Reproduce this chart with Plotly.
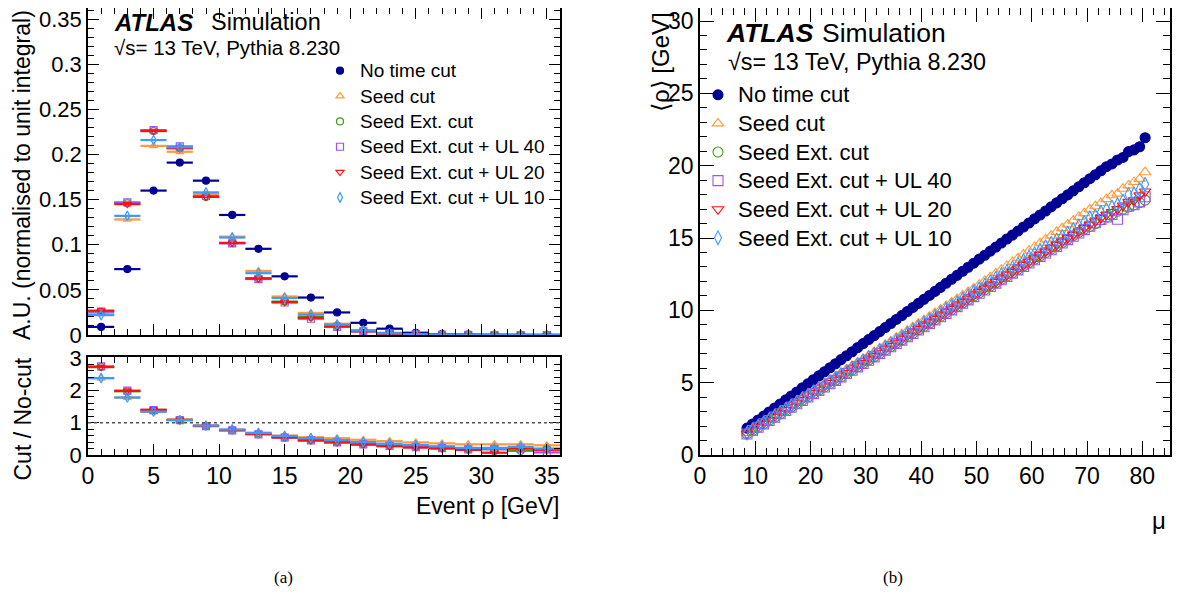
import plotly.graph_objects as go

# the page body adds an 8 px margin; the figure is sized to fit the window exactly
OFF = 8
W, H = 1183 - OFF, 596 - OFF

def px(x):
    return min(1.0, max(0.0, (x - OFF) / W))

def py(y):
    return min(1.0, max(0.0, 1 - (y - OFF) / H))

# ---------------- data: panel (a) ----------------
rho_bins = [1, 3, 5, 7, 9, 11, 13, 15, 17, 19, 21, 23, 25, 27, 29, 31, 33, 35]
bin_half = 1.0

au_nocut = [0.009, 0.073, 0.160, 0.191, 0.171, 0.133, 0.0955, 0.065, 0.0415, 0.025, 0.0135,
            0.007, 0.0025, 0.001, 0.0005, 0.0003, 0.0002, 0.0001]
au_seed = [0.0235, 0.128, 0.2095, 0.203, 0.156, 0.109, 0.071, 0.0427, 0.0245, 0.0125, 0.0055,
           0.0025, 0.001, 0.0004, 0.0002, 0.0001, 0.0001, 0.0]
au_ext = [0.026, 0.146, 0.226, 0.207, 0.153, 0.102, 0.063, 0.037, 0.020, 0.010, 0.0045,
          0.002, 0.0007, 0.0003, 0.0001, 0.0001, 0.0, 0.0]
au_ul40 = [0.026, 0.147, 0.227, 0.209, 0.154, 0.1015, 0.062, 0.036, 0.018, 0.009, 0.004,
           0.0015, 0.0006, 0.0002, 0.0001, 0.0, 0.0, 0.0]
au_ul20 = [0.027, 0.145, 0.226, 0.207, 0.153, 0.102, 0.0625, 0.0365, 0.019, 0.0095, 0.004,
           0.0015, 0.0006, 0.0002, 0.0001, 0.0, 0.0, 0.0]
au_ul10 = [0.022, 0.132, 0.216, 0.208, 0.158, 0.108, 0.0685, 0.041, 0.0225, 0.0115, 0.005,
           0.002, 0.0008, 0.0003, 0.0001, 0.0001, 0.0, 0.0]

ratio_seed = [2.37, 1.77, 1.33, 1.08, 0.91, 0.78, 0.69, 0.60, 0.55, 0.52, 0.47, 0.43, 0.39,
              0.36, 0.33, 0.33, 0.33, 0.30]
ratio_ext = [2.72, 1.97, 1.39, 1.09, 0.90, 0.77, 0.65, 0.55, 0.46, 0.40, 0.34, 0.29, 0.25,
             0.22, 0.18, 0.18, 0.13, 0.18]
ratio_ul40 = [2.74, 1.99, 1.39, 1.08, 0.89, 0.76, 0.64, 0.54, 0.45, 0.39, 0.33, 0.28, 0.24,
              0.21, 0.17, 0.18, 0.20, 0.08]
ratio_ul20 = [2.72, 1.98, 1.40, 1.09, 0.90, 0.77, 0.65, 0.54, 0.45, 0.39, 0.32, 0.27, 0.23,
              0.20, 0.16, 0.07, 0.20, 0.16]
ratio_ul10 = [2.38, 1.78, 1.34, 1.08, 0.91, 0.79, 0.68, 0.59, 0.52, 0.46, 0.40, 0.35, 0.31,
              0.27, 0.22, 0.22, 0.25, 0.20]
ratio_err = [0.03, 0.02, 0.02, 0.02, 0.02, 0.02, 0.03, 0.03, 0.03, 0.04, 0.04, 0.05, 0.05,
             0.06, 0.06, 0.07, 0.07, 0.08]

# ---------------- data: panel (b) ----------------
mu = [8.5, 9.5, 10.5, 11.5, 12.5, 13.5, 14.5, 15.5, 16.5, 17.5, 18.5, 19.5, 20.5, 21.5, 22.5,
      23.5, 24.5, 25.5, 26.5, 27.5, 28.5, 29.5, 30.5, 31.5, 32.5, 33.5, 34.5, 35.5, 36.5, 37.5,
      38.5, 39.5, 40.5, 41.5, 42.5, 43.5, 44.5, 45.5, 46.5, 47.5, 48.5, 49.5, 50.5, 51.5, 52.5,
      53.5, 54.5, 55.5, 56.5, 57.5, 58.5, 59.5, 60.5, 61.5, 62.5, 63.5, 64.5, 65.5, 66.5, 67.5,
      68.5, 69.5, 70.5, 71.5, 72.5, 73.5, 74.5, 75.5, 76.5, 77.5, 78.5, 79.5, 80.5]

rho_nocut = [1.86, 2.14, 2.42, 2.69, 2.97, 3.25, 3.53, 3.81, 4.08, 4.36, 4.64, 4.92, 5.20, 5.47,
             5.75, 6.03, 6.31, 6.59, 6.86, 7.14, 7.42, 7.70, 7.98, 8.25, 8.53, 8.81, 9.09, 9.37,
             9.64, 9.92, 10.20, 10.48, 10.76, 11.03, 11.31, 11.59, 11.87, 12.15, 12.42, 12.70,
             12.98, 13.26, 13.54, 13.81, 14.09, 14.37, 14.65, 14.93, 15.20, 15.48, 15.76, 16.04,
             16.32, 16.59, 16.87, 17.15, 17.43, 17.71, 17.98, 18.26, 18.54, 18.82, 19.10, 19.37,
             19.65, 19.93, 20.12, 20.39, 20.57, 20.97, 21.09, 21.31, 21.93]
rho_seed = [1.52, 1.76, 2.01, 2.25, 2.50, 2.74, 2.98, 3.23, 3.47, 3.72, 3.96, 4.20, 4.45, 4.69,
            4.94, 5.18, 5.42, 5.67, 5.91, 6.16, 6.40, 6.64, 6.89, 7.13, 7.38, 7.62, 7.86, 8.11,
            8.35, 8.60, 8.84, 9.08, 9.33, 9.57, 9.82, 10.06, 10.30, 10.55, 10.79, 11.04, 11.28,
            11.52, 11.78, 12.04, 12.30, 12.56, 12.82, 13.08, 13.34, 13.60, 13.86, 14.12, 14.38,
            14.64, 14.90, 15.16, 15.42, 15.68, 15.94, 16.20, 16.46, 16.72, 16.98, 17.20, 17.42,
            17.69, 17.96, 18.07, 18.41, 18.64, 18.87, 19.09, 19.55]
rho_ext = [1.46, 1.69, 1.92, 2.15, 2.39, 2.62, 2.85, 3.08, 3.32, 3.55, 3.78, 4.01, 4.24, 4.48,
           4.71, 4.94, 5.17, 5.41, 5.64, 5.87, 6.10, 6.33, 6.57, 6.80, 7.03, 7.26, 7.49, 7.73,
           7.96, 8.19, 8.42, 8.66, 8.89, 9.12, 9.35, 9.58, 9.82, 10.05, 10.28, 10.51, 10.75,
           10.98, 11.21, 11.44, 11.67, 11.91, 12.14, 12.37, 12.60, 12.83, 13.07, 13.30, 13.53,
           13.76, 14.00, 14.23, 14.46, 14.69, 14.92, 15.16, 15.39, 15.62, 15.80, 16.00, 16.25,
           16.45, 16.65, 16.85, 17.00, 17.15, 17.30, 17.45, 17.62]
rho_ul40 = [1.45, 1.69, 1.92, 2.15, 2.38, 2.62, 2.85, 3.08, 3.31, 3.54, 3.77, 4.01, 4.24, 4.47,
            4.70, 4.93, 5.16, 5.40, 5.63, 5.86, 6.09, 6.32, 6.55, 6.78, 7.02, 7.25, 7.48, 7.71,
            7.94, 8.17, 8.40, 8.64, 8.87, 9.10, 9.33, 9.56, 9.79, 10.03, 10.26, 10.49, 10.72,
            10.95, 11.18, 11.41, 11.65, 11.88, 12.11, 12.34, 12.57, 12.80, 13.04, 13.27, 13.50,
            13.73, 13.96, 14.19, 14.42, 14.66, 14.89, 15.12, 15.35, 15.58, 15.81, 16.05, 16.28,
            16.45, 16.62, 16.30, 16.95, 17.20, 17.30, 17.50, 17.85]
rho_ul20 = [1.48, 1.71, 1.95, 2.18, 2.41, 2.65, 2.88, 3.11, 3.34, 3.58, 3.81, 4.04, 4.28, 4.51,
            4.74, 4.98, 5.21, 5.44, 5.67, 5.91, 6.14, 6.37, 6.61, 6.84, 7.07, 7.31, 7.54, 7.77,
            8.00, 8.24, 8.47, 8.70, 8.94, 9.17, 9.40, 9.64, 9.87, 10.10, 10.33, 10.57, 10.80,
            11.03, 11.27, 11.50, 11.73, 11.96, 12.20, 12.43, 12.66, 12.89, 13.13, 13.36, 13.59,
            13.82, 14.06, 14.29, 14.52, 14.75, 14.99, 15.22, 15.45, 15.68, 15.92, 16.15, 16.38,
            16.61, 16.80, 17.00, 17.25, 17.50, 17.60, 17.95, 18.22]
rho_ul10 = [1.50, 1.74, 1.98, 2.21, 2.45, 2.69, 2.93, 3.17, 3.40, 3.64, 3.88, 4.12, 4.36, 4.59,
            4.83, 5.07, 5.31, 5.55, 5.78, 6.02, 6.26, 6.50, 6.74, 6.97, 7.21, 7.45, 7.69, 7.93,
            8.16, 8.40, 8.64, 8.88, 9.12, 9.35, 9.59, 9.83, 10.07, 10.31, 10.54, 10.78, 11.02,
            11.26, 11.50, 11.74, 11.98, 12.22, 12.46, 12.70, 12.95, 13.19, 13.43, 13.67, 13.91,
            14.15, 14.39, 14.63, 14.87, 15.11, 15.35, 15.59, 15.83, 16.08, 16.40, 16.50, 16.80,
            16.95, 17.15, 17.30, 17.55, 18.00, 18.05, 18.35, 18.72]

names = ["No time cut", "Seed cut", "Seed Ext. cut", "Seed Ext. cut + UL 40",
         "Seed Ext. cut + UL 20", "Seed Ext. cut + UL 10"]
colors = ["#000094", "#ff9a3c", "#3aa010", "#a050ff", "#ff1010", "#3a9bff"]
symbols = ["circle", "triangle-up-open", "circle-open", "square-open",
           "triangle-down-open", "diamond-tall-open"]

FONT = "Liberation Sans, Arial, sans-serif"


def sized(name, size):
    return '<span style="font-size:%dpx">%s</span>' % (size, name)


fig = go.Figure()

# ---------- panel (a) top ----------
au_series = [au_nocut, au_seed, au_ext, au_ul40, au_ul20, au_ul10]
for i, ys in enumerate(au_series):
    fig.add_trace(go.Scatter(
        x=rho_bins, y=ys, mode="markers", name=sized(names[i], 19),
        marker=dict(symbol=symbols[i], size=7, color=colors[i],
                    line=dict(width=1.2, color=colors[i])),
        error_x=dict(type="constant", value=bin_half, width=0, thickness=2.2, color=colors[i]),
        xaxis="x", yaxis="y", legend="legend", showlegend=True,
    ))

# ---------- panel (a) ratio ----------
ratio_series = [ratio_seed, ratio_ext, ratio_ul40, ratio_ul20, ratio_ul10]
for i, ys in enumerate(ratio_series):
    c = colors[i + 1]
    fig.add_trace(go.Scatter(
        x=rho_bins, y=ys, mode="markers",
        marker=dict(symbol=symbols[i + 1], size=7, color=c, line=dict(width=1.2, color=c)),
        error_x=dict(type="constant", value=bin_half, width=0, thickness=2.2, color=c),
        error_y=dict(type="data", array=ratio_err, width=0, thickness=1.2, color=c),
        xaxis="x2", yaxis="y2", showlegend=False,
    ))

# ---------- panel (b) ----------
rho_series = [rho_nocut, rho_seed, rho_ext, rho_ul40, rho_ul20, rho_ul10]
for i, ys in enumerate(rho_series):
    fig.add_trace(go.Scatter(
        x=mu, y=ys, mode="markers", name=sized(names[i], 22),
        marker=dict(symbol=symbols[i], size=10, color=colors[i],
                    line=dict(width=1.1, color=colors[i])),
        xaxis="x3", yaxis="y3", legend="legend2", showlegend=True,
    ))

fig.add_shape(type="line", xref="x2", yref="y2", x0=0, x1=36, y0=1, y1=1,
              line=dict(color="#555555", width=1.5, dash="dot"))

axis_common = dict(showline=True, linecolor="black", linewidth=1.5, mirror="allticks",
                   ticks="inside", showgrid=False, zeroline=False, tickcolor="black",
                   automargin=False, ticklabeloverflow="allow")
tf_big = dict(family=FONT, size=23, color="black")
tf_left = dict(family=FONT, size=22, color="black")

fig.update_layout(
    width=W, height=H, margin=dict(l=0, r=0, t=0, b=0, pad=0, autoexpand=False),
    paper_bgcolor="white", plot_bgcolor="white",
    font=dict(family=FONT, color="black"),
    xaxis=dict(domain=[px(88), px(560)], range=[0, 36], anchor="y", dtick=5, ticklen=11,
               showticklabels=False, tickfont=tf_big,
               minor=dict(dtick=1, ticklen=6, ticks="inside", tickcolor="black"), **axis_common),
    yaxis=dict(domain=[py(335), py(8)], range=[0, 0.3623], anchor="x", dtick=0.05, ticklen=11,
               tickfont=tf_left,
               minor=dict(dtick=0.01, ticklen=6, ticks="inside", tickcolor="black"), **axis_common),
    xaxis2=dict(domain=[px(88), px(560)], range=[0, 36], anchor="y2", dtick=5, ticklen=11,
                tickfont=tf_big,
                minor=dict(dtick=1, ticklen=6, ticks="inside", tickcolor="black"), **axis_common),
    yaxis2=dict(domain=[py(455), py(357)], range=[0, 3.03], anchor="x2", dtick=1, ticklen=11,
                tickfont=tf_left,
                minor=dict(dtick=0.2, ticklen=6, ticks="inside", tickcolor="black"), **axis_common),
    xaxis3=dict(domain=[px(700), px(1170)], range=[0, 85], anchor="y3", dtick=10, ticklen=14,
                tickfont=tf_big,
                minor=dict(dtick=2, ticklen=7, ticks="inside", tickcolor="black"), **axis_common),
    yaxis3=dict(domain=[py(455), py(8)], range=[0, 30.9], anchor="x3", dtick=5, ticklen=14,
                tickfont=tf_big,
                minor=dict(dtick=1, ticklen=7, ticks="inside", tickcolor="black"), **axis_common),
    legend=dict(x=px(320), y=py(53), xanchor="left", yanchor="top",
                font=dict(family=FONT, size=17.2, color="black"), bgcolor="rgba(0,0,0,0)",
                borderwidth=0, tracegroupgap=0),
    legend2=dict(x=px(698), y=py(75.5), xanchor="left", yanchor="top",
                 font=dict(family=FONT, size=19.7, color="black"), bgcolor="rgba(0,0,0,0)",
                 borderwidth=0, tracegroupgap=0),
)

ann = [
    dict(text="<b><i>ATLAS</i></b>", x=px(112), y=py(22), size=24, xanchor="left"),
    dict(text="Simulation", x=px(209), y=py(22), size=23.5, xanchor="left"),
    dict(text="√s= 13 TeV, Pythia 8.230", x=px(112), y=py(48), size=20.5, xanchor="left"),
    dict(text="<b><i>ATLAS</i></b>", x=px(724), y=py(33), size=26.5, xanchor="left"),
    dict(text="Simulation", x=px(820), y=py(33), size=26.5, xanchor="left"),
    dict(text="√s= 13 TeV, Pythia 8.230", x=px(726), y=py(62), size=23.4, xanchor="left"),
    dict(text="Event ρ [GeV]", x=px(561), y=py(506), size=23, xanchor="right"),
    dict(text="μ", x=px(1168), y=py(520), size=24, xanchor="right"),
]
for a in ann:
    fig.add_annotation(text=a["text"], x=a["x"], y=a["y"], xref="paper", yref="paper",
                       xanchor=a["xanchor"], yanchor="middle", showarrow=False,
                       font=dict(family=FONT, size=a["size"], color="black"))

fig.add_annotation(text="A.U. (normalised to unit integral)", x=px(22), y=py(8),
                   xref="paper", yref="paper", xanchor="center", yanchor="top",
                   textangle=-90, showarrow=False,
                   font=dict(family=FONT, size=23, color="black"))
fig.add_annotation(text="Cut / No-cut", x=px(22), y=py(356),
                   xref="paper", yref="paper", xanchor="center", yanchor="top",
                   textangle=-90, showarrow=False,
                   font=dict(family=FONT, size=23, color="black"))
fig.add_annotation(text="⟨ρ⟩ [GeV]", x=px(660), y=py(10),
                   xref="paper", yref="paper", xanchor="center", yanchor="top",
                   textangle=-90, showarrow=False,
                   font=dict(family=FONT, size=24, color="black"))
fig.add_annotation(text="(a)", x=px(283), y=py(577), xref="paper", yref="paper",
                   xanchor="center", yanchor="middle", showarrow=False,
                   font=dict(family="Liberation Serif, Times New Roman, serif", size=17, color="black"))
fig.add_annotation(text="(b)", x=px(893), y=py(577), xref="paper", yref="paper",
                   xanchor="center", yanchor="middle", showarrow=False,
                   font=dict(family="Liberation Serif, Times New Roman, serif", size=17, color="black"))

fig.write_html("out.html")
